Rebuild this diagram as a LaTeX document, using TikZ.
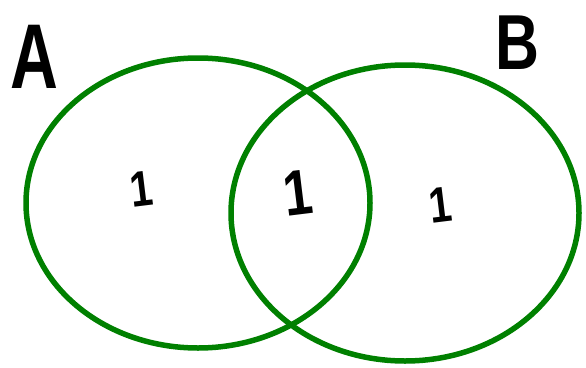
\documentclass[tikz,border=0pt]{standalone}
\usepackage{fontspec}
\setmainfont{Liberation Sans}
\usetikzlibrary{shapes.geometric}
\definecolor{vgreen}{RGB}{0,128,0}
\tikzset{
  setring/.style={draw=vgreen, line width=5.5pt, ellipse, inner sep=0pt},
  countlbl/.style={text=black, inner sep=0pt, rotate=7},
  setname/.style={text=black, inner sep=0pt}
}
\begin{document}
\begin{tikzpicture}[x=1pt,y=-1pt]
\useasboundingbox (0,0) rectangle (586,367);
\node[setring, minimum width=344pt, minimum height=290pt] (A) at (198,203) {};
\node[setring, minimum width=348pt, minimum height=296pt] (B) at (405,213) {};
\node[setname, font=\bfseries\fontsize{92}{92}\selectfont] (la) at (34,57) {\scalebox{0.72}[1]{A}};
\node[setname, font=\bfseries\fontsize{78}{78}\selectfont] (lb) at (517,43) {\scalebox{0.78}[1]{B}};
\node[countlbl, font=\bfseries\fontsize{50}{50}\selectfont] (n1) at (141,189) {\scalebox{0.8}[1]{1}};
\node[countlbl, font=\bfseries\fontsize{64}{64}\selectfont] (n2) at (298,193) {\scalebox{0.8}[1]{1}};
\node[countlbl, font=\bfseries\fontsize{50}{50}\selectfont] (n3) at (440,205) {\scalebox{0.8}[1]{1}};
\end{tikzpicture}
\end{document}
